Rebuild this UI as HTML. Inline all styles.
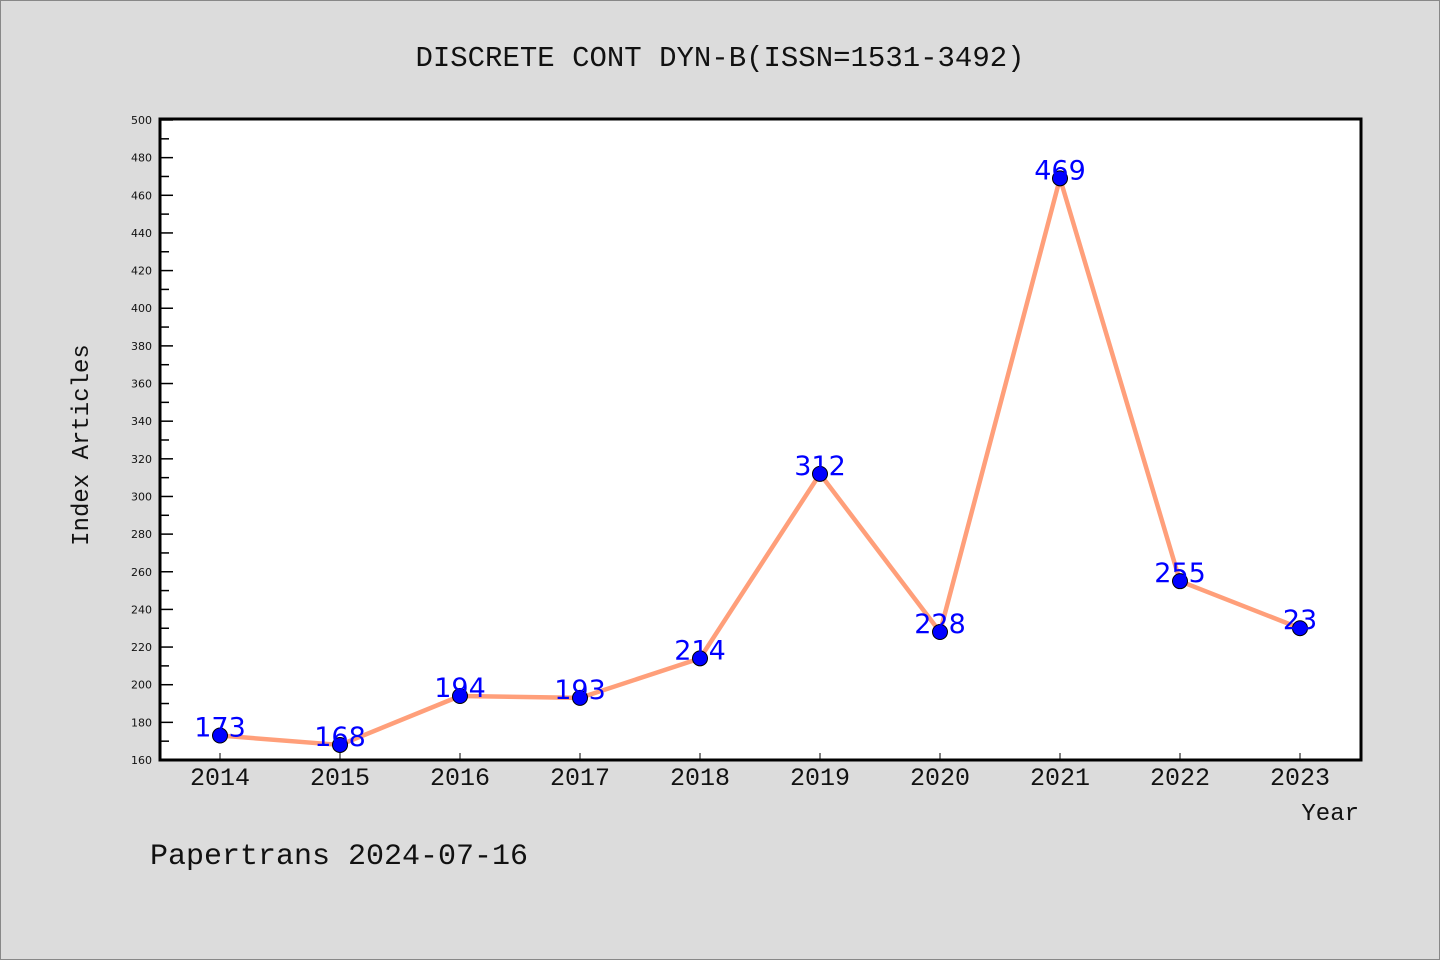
<!DOCTYPE html>
<html><head><meta charset="utf-8"><style>
html,body{margin:0;padding:0;background:#dcdcdc;}
svg{display:block;font-family:"Liberation Mono","DejaVu Sans Mono",monospace;}
.val{font-family:"DejaVu Sans","Liberation Sans",sans-serif;}
</style></head><body>
<svg id="chart" width="1440" height="960" viewBox="0 0 1440 960">
<rect x="0.5" y="0.5" width="1439" height="959" fill="#dcdcdc" stroke="#888"/>
<text x="720" y="66" text-anchor="middle" font-size="29" fill="#111">DISCRETE CONT DYN-B(ISSN=1531-3492)</text>
<rect x="160" y="119" width="1201" height="641" fill="#fff" stroke="#000" stroke-width="3"/>
<g id="yaxis"></g><g id="xaxis"></g><g id="series"></g>
<text transform="translate(88,445) rotate(-90)" text-anchor="middle" font-size="24" fill="#111">Index Articles</text>
<text x="1359" y="820" text-anchor="end" font-size="24" fill="#111">Year</text>
<text x="150" y="864" font-size="30" fill="#111">Papertrans 2024-07-16</text>
</svg>
<script>
const categories=["2014","2015","2016","2017","2018","2019","2020","2021","2022","2023"];
const values=[173,168,194,193,214,312,228,469,255,230];
const valueLabels=["173","168","194","193","214","312","228","469","255","23"];
const yTicks=[160,180,200,220,240,260,280,300,320,340,360,380,400,420,440,460,480,500];
const NS="http://www.w3.org/2000/svg";
const yMin=160,yMax=500,plotTop=120,plotBot=760;
function ys(v){return plotBot-(v-yMin)/(yMax-yMin)*(plotBot-plotTop);}
function xs(i){return 220+i*120;}
function mk(p,t,a){const e=document.createElementNS(NS,t);for(const k in a)e.setAttribute(k,a[k]);p.appendChild(e);return e;}
const ya=document.getElementById('yaxis');
yTicks.forEach((v,i)=>{
 const y=ys(v);
 const l=mk(ya,'line',{x1:160,x2:173,y1:y,y2:y,stroke:'#000','stroke-width':1.5});
 
 
 if(i<yTicks.length-1){const m=mk(ya,'line',{x1:160,x2:169,y1:ys(v+10),y2:ys(v+10),stroke:'#000','stroke-width':1.5});
 
 }
 const t=mk(ya,'text',{x:152,y:y+4,'text-anchor':'end','font-size':11,fill:'#111','class':'val'});
 t.textContent=v;
 
 
});
const xa=document.getElementById('xaxis');
categories.forEach((c,i)=>{
 const x=xs(i);
 const l=mk(xa,'line',{x1:x,x2:x,y1:760,y2:753,stroke:'#000','stroke-width':1});
 
 
 const t=mk(xa,'text',{x:x,y:785,'text-anchor':'middle','font-size':25,fill:'#111'});
 t.textContent=c;
 
 
});
const s=document.getElementById('series');
const pl=mk(s,'polyline',{points:values.map((v,i)=>xs(i)+','+ys(v)).join(' '),fill:'none',stroke:'#ff9f7a','stroke-width':4.5,'stroke-linejoin':'round'});


values.forEach((v,i)=>{
 const c=mk(s,'circle',{cx:xs(i),cy:ys(v),r:7.5,fill:'#0000ff',stroke:'#000','stroke-width':1});
 
 
 const t=mk(s,'text',{x:xs(i),y:ys(v)+1,'text-anchor':'middle','font-size':27,fill:'#0000ff','class':'val'});
 t.textContent=valueLabels[i];
 
 
});
</script>
</body></html>
